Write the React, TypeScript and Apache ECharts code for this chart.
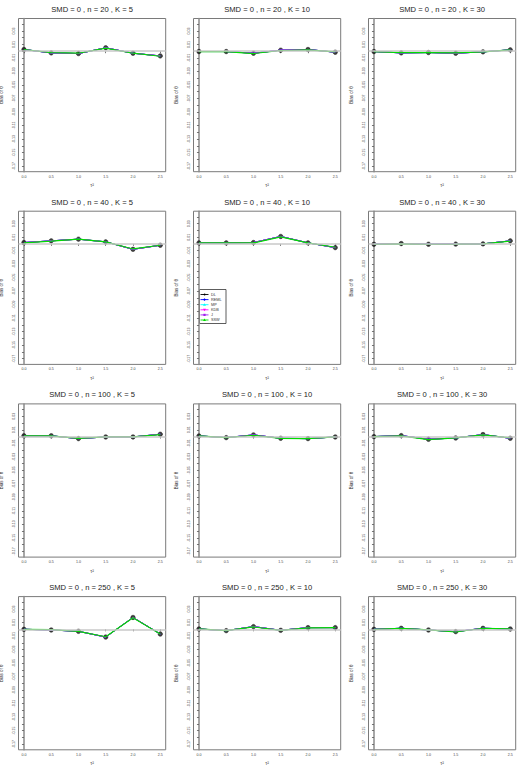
import React, { useEffect, useRef } from "react";
import * as echarts from "echarts";

const nValues = [20, 40, 100, 250];
const kValues = [5, 10, 30];
const tau2 = [0, 0.5, 1.0, 1.5, 2.0, 2.5];
const xTickLabels = ["0.0", "0.5", "1.0", "1.5", "2.0", "2.5"];
const yTicks = [-0.17, -0.16, -0.15, -0.14, -0.13, -0.12, -0.11, -0.1, -0.09, -0.08, -0.07, -0.06, -0.05, -0.04, -0.03, -0.02, -0.01, 0, 0.01, 0.02, 0.03, 0.04];
const yTickLabels = [-0.17, -0.15, -0.13, -0.11, -0.09, -0.07, -0.05, -0.03, -0.01, 0.01, 0.03];

const methods = ["DL", "REML", "MP", "KDB", "J", "SSW"];
const methodColors = ["#000000", "#0000ff", "#00ffff", "#ff00ff", "#a020f0", "#00dd00"];

// DL (and the closely overlapping REML/MP/KDB/J) and SSW bias values per panel
const dl_n20_k5 = [0.0025, -0.0025, -0.0035, 0.005, -0.003, -0.007];
const ssw_n20_k5 = [0.0025, -0.002, -0.003, 0.0045, -0.003, -0.0075];
const dl_n20_k10 = [-0.0005, -0.0005, -0.003, 0.0015, 0.0025, -0.0015];
const ssw_n20_k10 = [-0.0005, -0.0005, -0.0035, 0.001, 0.002, -0.001];
const dl_n20_k30 = [-0.0005, -0.0025, -0.002, -0.003, -0.001, 0.002];
const ssw_n20_k30 = [-0.0005, -0.002, -0.002, -0.0025, -0.001, 0.002];
const dl_n40_k5 = [0.002, 0.0045, 0.007, 0.003, -0.008, -0.002];
const ssw_n40_k5 = [0.0015, 0.004, 0.007, 0.003, -0.0075, -0.002];
const dl_n40_k10 = [0.0015, 0.0015, 0.002, 0.011, 0.0015, -0.0055];
const ssw_n40_k10 = [0.0015, 0.0015, 0.0015, 0.0105, 0.0015, -0.005];
const dl_n40_k30 = [-0.0005, 0.0005, -0.0005, -0.0003, 0.0, 0.0045];
const ssw_n40_k30 = [-0.0005, 0.0, -0.0005, -0.0003, 0.0, 0.004];
const dl_n100_k5 = [0.0012, 0.0012, -0.003, -0.0005, -0.0005, 0.0035];
const ssw_n100_k5 = [0.0012, 0.0012, -0.0025, -0.0005, -0.0005, 0.003];
const dl_n100_k10 = [0.001, -0.0015, 0.0025, -0.0025, -0.003, -0.0005];
const ssw_n100_k10 = [0.001, -0.0015, 0.002, -0.0025, -0.003, -0.0005];
const dl_n100_k30 = [0.0, 0.0015, -0.004, -0.002, 0.003, -0.0025];
const ssw_n100_k30 = [0.0, 0.001, -0.0045, -0.002, 0.0025, -0.002];
const dl_n250_k5 = [0.0, -0.001, -0.003, -0.0115, 0.0175, -0.007];
const ssw_n250_k5 = [0.0, -0.0005, -0.003, -0.011, 0.017, -0.007];
const dl_n250_k10 = [0.0005, -0.002, 0.004, -0.0015, 0.0025, 0.0025];
const ssw_n250_k10 = [0.0005, -0.002, 0.0035, -0.0015, 0.002, 0.0025];
const dl_n250_k30 = [0.0, 0.0015, -0.001, -0.0035, 0.0015, 0.0005];
const ssw_n250_k30 = [0.0, 0.0015, -0.001, -0.004, 0.0015, 0.0005];

const dlData = [
  [dl_n20_k5, dl_n20_k10, dl_n20_k30],
  [dl_n40_k5, dl_n40_k10, dl_n40_k30],
  [dl_n100_k5, dl_n100_k10, dl_n100_k30],
  [dl_n250_k5, dl_n250_k10, dl_n250_k30],
];
const sswData = [
  [ssw_n20_k5, ssw_n20_k10, ssw_n20_k30],
  [ssw_n40_k5, ssw_n40_k10, ssw_n40_k30],
  [ssw_n100_k5, ssw_n100_k10, ssw_n100_k30],
  [ssw_n250_k5, ssw_n250_k10, ssw_n250_k30],
];

const W = 525;
const H = 770;
const COL_STEP = 175;
const ROW_STEP = 192.7;
const BOX_LEFT = 18.5;
const BOX_TOP = 18.5;
const BOX_W = 147.2;
const BOX_H = 153.2;

function buildOption() {
  const grids: any[] = [];
  const xAxes: any[] = [];
  const yAxes: any[] = [];
  const series: any[] = [];
  const graphics: any[] = [];
  let idx = 0;
  for (let r = 0; r < nValues.length; r++) {
    for (let c = 0; c < kValues.length; c++) {
      const left = BOX_LEFT + c * COL_STEP;
      const top = BOX_TOP + r * ROW_STEP;
      grids.push({
        left,
        top,
        width: BOX_W,
        height: BOX_H,
        show: true,
        borderColor: "#7a7a7a",
        borderWidth: 1,
        backgroundColor: "transparent",
        containLabel: false,
        outerBoundsMode: "none",
      });
      xAxes.push({
        type: "value",
        gridIndex: idx,
        min: -0.1,
        max: 2.6,
        axisLine: { show: false },
        splitLine: { show: false },
        axisTick: { show: true, length: 2, lineStyle: { color: "#555", width: 0.8 }, customValues: tau2 },
        axisLabel: {
          show: true,
          customValues: tau2,
          fontSize: 3.6,
          color: "#444",
          margin: 3,
          fontFamily: "Liberation Sans",
          formatter: (v: number) => xTickLabels[tau2.indexOf(v)] ?? v.toFixed(1),
        },
        name: "τ²",
        nameLocation: "middle",
        nameGap: 11,
        nameTextStyle: { fontSize: 5, color: "#444", fontFamily: "Liberation Sans" },
      });
      yAxes.push({
        type: "value",
        gridIndex: idx,
        min: -0.1784,
        max: 0.0484,
        axisLine: { show: true, lineStyle: { color: "#8a8a8a", width: 1.5 } },
        splitLine: { show: false },
        axisTick: { show: true, length: 2, lineStyle: { color: "#555", width: 0.8 }, customValues: yTicks },
        axisLabel: {
          show: true,
          customValues: yTickLabels,
          rotate: 90,
          fontSize: 3.6,
          color: "#444",
          margin: 3,
          fontFamily: "Liberation Sans",
          formatter: (v: number) => v.toFixed(2),
        },
        name: "Bias of θ",
        nameLocation: "middle",
        nameGap: 15,
        nameRotate: 90,
        nameTextStyle: { fontSize: 4.5, color: "#333", fontFamily: "Liberation Sans" },
      });
      const dl = dlData[r][c];
      const ssw = sswData[r][c];
      methods.forEach((m, mi) => {
        const vals = m === "SSW" ? ssw : dl;
        const s: any = {
          type: "line",
          name: m,
          xAxisIndex: idx,
          yAxisIndex: idx,
          data: tau2.map((x, i) => [x, vals[i]]),
          showSymbol: false,
          symbol: "none",
          lineStyle: { color: methodColors[mi], width: m === "SSW" ? 1.2 : 1 },
          silent: true,
        };
        if (mi === 0) {
          s.markLine = {
            silent: true,
            symbol: "none",
            label: { show: false },
            lineStyle: { color: "#c8c8c8", width: 1.5, type: "solid" },
            data: [{ yAxis: 0 }],
          };
        }
        series.push(s);
      });
      series.push({
        type: "scatter",
        name: "DL points",
        xAxisIndex: idx,
        yAxisIndex: idx,
        data: tau2.map((x, i) => [x, dl[i]]),
        symbol: "circle",
        symbolSize: 4.5,
        itemStyle: { color: "#111", borderColor: "#000", borderWidth: 0.5 },
        silent: true,
      });
      graphics.push({
        type: "text",
        x: left + BOX_W / 2,
        y: top - 9.2,
        style: {
          text: `SMD = 0 , n = ${nValues[r]} , K = ${kValues[c]}`,
          fontSize: 7.6,
          fontFamily: "Liberation Sans",
          fill: "#222",
          align: "center",
          verticalAlign: "middle",
        },
      });
      idx++;
    }
  }

  // legend inside panel (n = 40, K = 10)
  const lx = 199.5;
  const ly = 289.5;
  const legendChildren: any[] = [
    { type: "rect", shape: { x: lx, y: ly, width: 26.5, height: 34 }, style: { fill: "#fff", stroke: "#333", lineWidth: 0.8 } },
  ];
  methods.forEach((m, mi) => {
    const y = ly + 5 + mi * 5.1;
    const col = methodColors[mi];
    legendChildren.push({ type: "line", shape: { x1: lx + 1, y1: y, x2: lx + 9, y2: y }, style: { stroke: col, lineWidth: 0.9 } });
    const cx = lx + 5;
    if (mi === 0) {
      legendChildren.push({ type: "circle", shape: { cx, cy: y, r: 0.9 }, style: { fill: col } });
    } else if (mi === 1) {
      legendChildren.push({ type: "polygon", shape: { points: [[cx, y - 1.4], [cx + 1.4, y], [cx, y + 1.4], [cx - 1.4, y]] }, style: { fill: col } });
    } else if (mi === 2 || mi === 5) {
      legendChildren.push({ type: "polygon", shape: { points: [[cx, y - 1.5], [cx + 1.5, y + 1.1], [cx - 1.5, y + 1.1]] }, style: { fill: col } });
    } else if (mi === 3) {
      legendChildren.push({ type: "polygon", shape: { points: [[cx, y + 1.5], [cx + 1.5, y - 1.1], [cx - 1.5, y - 1.1]] }, style: { fill: col } });
    } else {
      legendChildren.push({ type: "rect", shape: { x: cx - 1.1, y: y - 1.1, width: 2.2, height: 2.2 }, style: { fill: col } });
    }
    legendChildren.push({
      type: "text",
      x: lx + 11.5,
      y,
      style: { text: m, fontSize: 3.8, fontFamily: "Liberation Sans", fill: "#333", align: "left", verticalAlign: "middle" },
    });
  });
  graphics.push({ type: "group", children: legendChildren, z: 100 });

  return {
    animation: false,
    backgroundColor: "#ffffff",
    grid: grids,
    xAxis: xAxes,
    yAxis: yAxes,
    series,
    graphic: graphics,
  };
}

export default function App() {
  const ref = useRef<HTMLDivElement>(null);
  useEffect(() => {
    document.body.style.margin = "0";
    if (!ref.current) return;
    const chart = echarts.init(ref.current, undefined, { renderer: "svg" });
    chart.setOption(buildOption() as any);
    return () => chart.dispose();
  }, []);
  return <div ref={ref} style={{ width: W, height: H, position: "absolute", left: 0, top: 0 }} />;
}
